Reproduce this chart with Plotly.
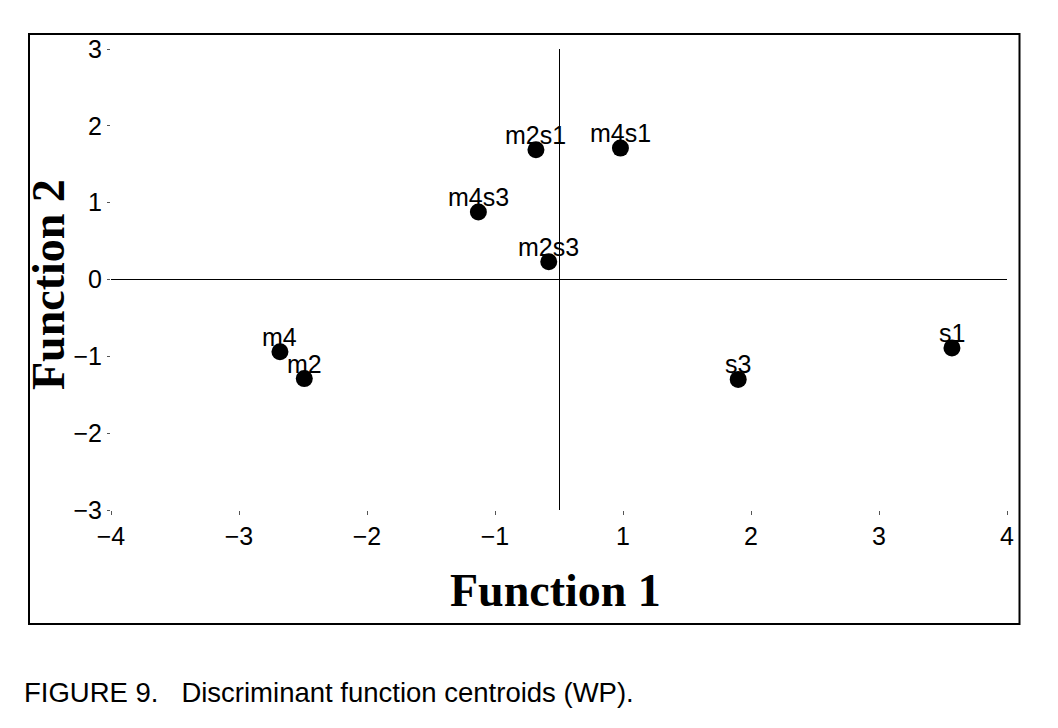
import plotly.graph_objects as go

# ---- data ----
groups = ["m2s1", "m4s1", "m4s3", "m2s3", "m4", "m2", "s3", "s1"]
function1 = [-0.18, 0.48, -0.63, -0.08, -2.18, -1.99, 1.40, 3.07]
function2 = [1.69, 1.71, 0.88, 0.23, -0.94, -1.29, -1.30, -0.89]

x_tick_vals = [-3.5, -2.5, -1.5, -0.5, 0.5, 1.5, 2.5, 3.5]
x_tick_text = ["\u22124", "\u22123", "\u22122", "\u22121", "1", "2", "3", "4"]
y_tick_vals = [-3, -2, -1, 0, 1, 2, 3]
y_tick_text = ["\u22123", "\u22122", "\u22121", "0", "1", "2", "3"]

x_title = "Function 1"
y_title = "Function 2"
caption = "FIGURE 9.\u00a0\u00a0\u00a0Discriminant function centroids (WP)."

# ---- geometry (pixels, page coordinates; page body has an 8px margin) ----
OFF = 8
W, H = 1058, 728
L = 111 - OFF
T = 49 - OFF
R = W - (1007 - OFF)
B = H - (510 - OFF)
PW = W - L - R
PH = H - T - B


def px_x(p):
    return (p - OFF - L) / PW


def px_y(p):
    return (H - B - (p - OFF)) / PH


sans = "Liberation Sans, Arial, Helvetica, sans-serif"
serif = "Liberation Serif, Times New Roman, serif"

fig = go.Figure()
fig.add_trace(go.Scatter(
    x=function1, y=function2, mode="markers",
    marker=dict(size=17, color="black", line=dict(width=0)),
    showlegend=False, hoverinfo="text", text=groups,
))

annotations = []
for g, xv, yv in zip(groups, function1, function2):
    annotations.append(dict(
        x=xv, y=yv, xref="x", yref="y", text=g, showarrow=False,
        xanchor="center", yanchor="middle", yshift=15,
        font=dict(family=sans, size=25, color="black"),
    ))

annotations.append(dict(
    x=px_x(555), y=px_y(590), xref="paper", yref="paper",
    text="<b>" + x_title + "</b>", showarrow=False,
    xanchor="center", yanchor="middle",
    font=dict(family=serif, size=46, color="black"),
))
annotations.append(dict(
    x=px_x(48), y=px_y(285), xref="paper", yref="paper",
    text="<b>" + y_title + "</b>", showarrow=False, textangle=-90,
    xanchor="center", yanchor="middle",
    font=dict(family=serif, size=46, color="black"),
))
annotations.append(dict(
    x=px_x(22), y=px_y(692), xref="paper", yref="paper",
    text=caption, showarrow=False,
    xanchor="left", yanchor="middle",
    font=dict(family=sans, size=27.5, color="black"),
))

fig.update_layout(
    width=W, height=H,
    margin=dict(l=L, r=R, t=T, b=B, pad=0),
    paper_bgcolor="white", plot_bgcolor="white",
    annotations=annotations,
    shapes=[dict(
        type="rect", xref="paper", yref="paper",
        x0=px_x(29), x1=px_x(1019.5), y0=px_y(624), y1=px_y(34),
        line=dict(color="black", width=2), fillcolor="rgba(0,0,0,0)",
        layer="below",
    )],
    xaxis=dict(
        range=[-3.5, 3.5], tickvals=x_tick_vals, ticktext=x_tick_text,
        ticks="outside", ticklen=4, tickwidth=1, tickcolor="#555",
        showgrid=False, showline=False,
        zeroline=True, zerolinecolor="black", zerolinewidth=1,
        tickfont=dict(family=sans, size=25, color="black"),
        fixedrange=True,
    ),
    yaxis=dict(
        range=[-3, 3], tickvals=y_tick_vals, ticktext=y_tick_text,
        ticks="outside", ticklen=3, tickwidth=1, tickcolor="#555",
        showgrid=False, showline=False,
        zeroline=True, zerolinecolor="black", zerolinewidth=1,
        tickfont=dict(family=sans, size=25, color="black"),
        fixedrange=True,
    ),
)

fig.write_html("out.html")
